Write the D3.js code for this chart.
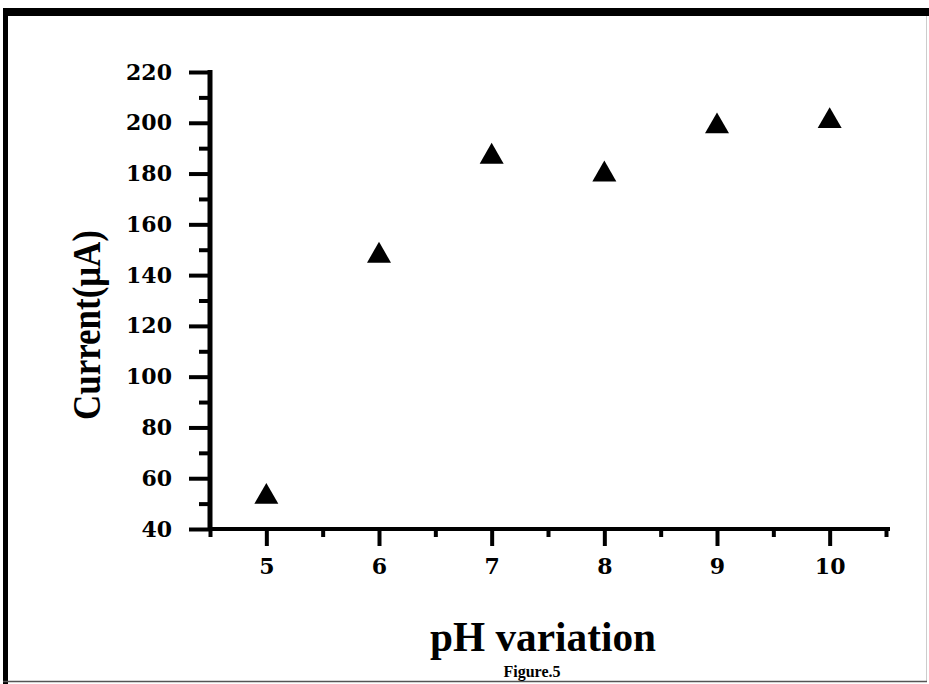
<!DOCTYPE html>
<html>
<head>
<meta charset="utf-8">
<script src="https://cdn.jsdelivr.net/npm/d3@7"></script>
<style>
  html, body { margin: 0; padding: 0; background: #fff; }
  svg { display: block; }
  .axis path, .axis line { stroke: #000; }
  .axis text { font-family: "DejaVu Serif", serif; font-weight: bold; font-size: 22px; fill: #000; }
  .title { font-family: "Liberation Serif", "Times New Roman", serif; font-weight: bold; fill: #000; }
</style>
</head>
<body>
<div id="chart"></div>
<script>
// data
const phValues = [5, 6, 7, 8, 9, 10];
const currentValues = [54, 149, 188, 181, 200, 202];
const xMajorTicks = [5, 6, 7, 8, 9, 10];
const xMinorTicks = [4.5, 5.5, 6.5, 7.5, 8.5, 9.5, 10.5];
const yMajorTicks = [40, 60, 80, 100, 120, 140, 160, 180, 200, 220];
const yMinorTicks = [50, 70, 90, 110, 130, 150, 170, 190, 210];

const width = 929, height = 684;

const svg = d3.select('#chart').append('svg')
  .attr('width', width)
  .attr('height', height);

// frame round the figure
svg.append('rect').attr('x', 3).attr('y', 8).attr('width', 926).attr('height', 8).attr('fill', '#000');
svg.append('rect').attr('x', 3).attr('y', 8).attr('width', 5).attr('height', 676).attr('fill', '#000');
svg.append('line').attr('x1', 926.5).attr('x2', 926.5).attr('y1', 16).attr('y2', 682)
  .attr('stroke', '#ccc').attr('stroke-width', 1);
svg.append('line').attr('x1', 3).attr('x2', 927).attr('y1', 681.5).attr('y2', 681.5)
  .attr('stroke', '#555').attr('stroke-width', 1.5);

// scales
const x = d3.scaleLinear().domain([4.5, 10.5]).range([210, 886]);
const y = d3.scaleLinear().domain([40, 220]).range([529, 72]);

// minor ticks first, then major axis on top
svg.append('g')
  .attr('class', 'axis')
  .attr('transform', 'translate(0,529)')
  .call(d3.axisBottom(x).tickValues(xMinorTicks).tickSize(8).tickSizeOuter(0).tickFormat(''))
  .call(g => g.select('.domain').remove())
  .call(g => g.selectAll('line').attr('stroke-width', 4));

svg.append('g')
  .attr('class', 'axis')
  .attr('transform', 'translate(210,0)')
  .call(d3.axisLeft(y).tickValues(yMinorTicks).tickSize(11).tickSizeOuter(0).tickFormat(''))
  .call(g => g.select('.domain').remove())
  .call(g => g.selectAll('line').attr('stroke-width', 4));

svg.append('g')
  .attr('class', 'axis')
  .attr('transform', 'translate(0,529)')
  .call(d3.axisBottom(x).tickValues(xMajorTicks).tickSize(17).tickSizeOuter(0).tickPadding(12).tickFormat(d3.format('d')))
  .call(g => g.select('.domain').attr('stroke-width', 4).attr('d', 'M208,0H890'))
  .call(g => g.selectAll('line').attr('stroke-width', 4));

svg.append('g')
  .attr('class', 'axis')
  .attr('transform', 'translate(210,0)')
  .call(d3.axisLeft(y).tickValues(yMajorTicks).tickSize(21).tickSizeOuter(0).tickPadding(17).tickFormat(d3.format('d')))
  .call(g => g.select('.domain').attr('stroke-width', 5).attr('d', 'M0,70V531'))
  .call(g => g.selectAll('line').attr('stroke-width', 4));

// triangle markers, centred on their bounding box
const triSide = 24;
const triArea = triSide * triSide * Math.sqrt(3) / 4;
const triH = triSide * Math.sqrt(3) / 2;
const tri = d3.symbol().type(d3.symbolTriangle).size(triArea);

svg.append('g')
  .selectAll('path')
  .data(phValues.map((p, i) => ({ p, c: currentValues[i] })))
  .join('path')
  .attr('d', tri)
  .attr('transform', d => `translate(${x(d.p)},${y(d.c) + triH / 6})`)
  .attr('fill', '#000');

// axis titles
svg.append('text')
  .attr('class', 'title')
  .attr('x', 543).attr('y', 651)
  .attr('text-anchor', 'middle')
  .attr('font-size', 43)
  .attr('textLength', 226).attr('lengthAdjust', 'spacingAndGlyphs')
  .text('pH variation');

svg.append('text')
  .attr('class', 'title')
  .attr('transform', 'translate(100,325) rotate(-90)')
  .attr('text-anchor', 'middle')
  .attr('font-size', 40)
  .attr('textLength', 190).attr('lengthAdjust', 'spacingAndGlyphs')
  .text('Current(μA)');

svg.append('text')
  .attr('class', 'title')
  .attr('x', 532).attr('y', 677)
  .attr('text-anchor', 'middle')
  .attr('font-size', 16)
  .text('Figure.5');
</script>
</body>
</html>
